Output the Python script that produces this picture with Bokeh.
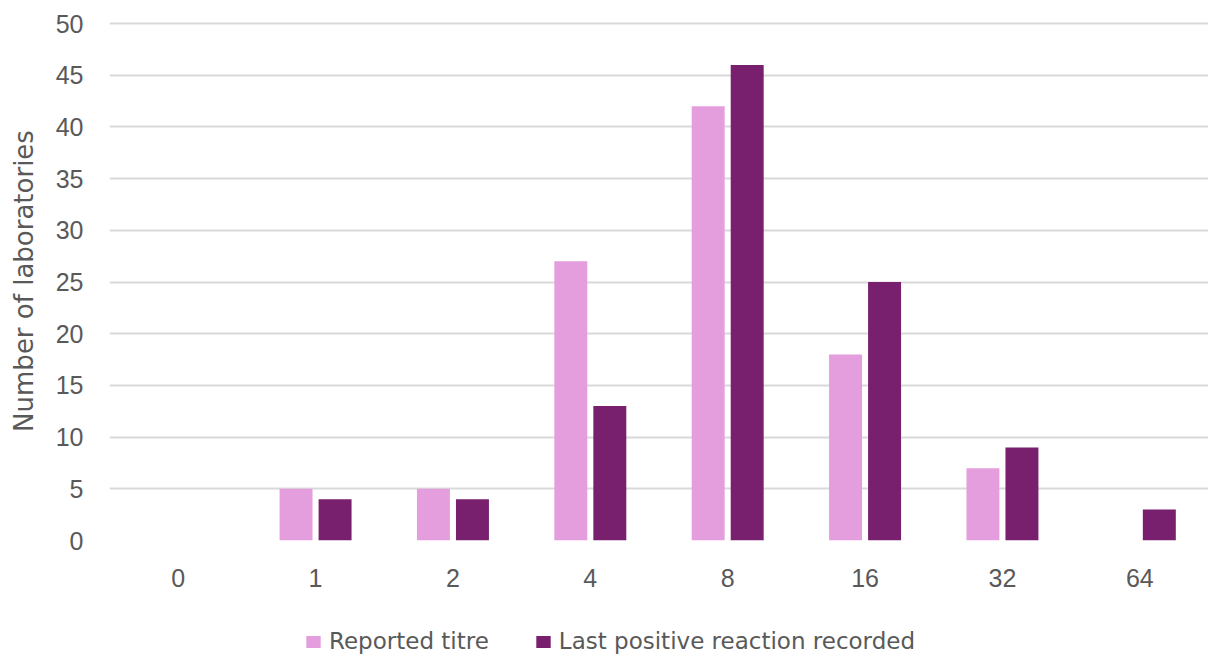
import numpy as np
from bokeh.plotting import figure
from bokeh.layouts import column
from bokeh.models import ColumnDataSource, FixedTicker, Legend, LegendItem, Range1d
from bokeh.embed import file_html
from bokeh.resources import INLINE

# Titre categories and number of laboratories per category
categories = ["0", "1", "2", "4", "8", "16", "32", "64"]
series_names = ["Reported titre", "Last positive reaction recorded"]
reported_titre = [0, 5, 5, 27, 42, 18, 7, 0]
last_positive = [0, 4, 4, 13, 46, 25, 9, 3]

PINK = "#E49EDD"
PURPLE = "#781F6E"
GRID = "#D9D9D9"
TEXT = "#595959"
TICK_FONT = "Liberation Sans"
LABEL_FONT = "DejaVu Sans"

x = np.arange(len(categories))
src = ColumnDataSource(dict(
    x_rep=x - 0.142,
    x_last=x + 0.142,
    rep=reported_titre,
    last=last_positive,
))

p = figure(
    width=1208, height=600,
    min_border_left=109, min_border_right=0, min_border_top=21, min_border_bottom=60,
    x_range=Range1d(-0.5, 7.5), y_range=Range1d(0, 50.2),
    output_backend="svg", toolbar_location=None,
)
p.outline_line_color = None

p.vbar(x="x_rep", top="rep", width=0.24, source=src, fill_color=PINK, line_color=None)
p.vbar(x="x_last", top="last", width=0.24, source=src, fill_color=PURPLE, line_color=None)

# x axis: category labels only
xa = p.xaxis[0]
xa.ticker = FixedTicker(ticks=list(x))
xa.major_label_overrides = {int(i): c for i, c in zip(x, categories)}
xa.axis_line_color = None
xa.major_tick_line_color = None
xa.minor_tick_line_color = None
xa.major_label_standoff = 22
xa.major_label_text_font = TICK_FONT
xa.major_label_text_font_size = "25px"
xa.major_label_text_color = TEXT

# y axis
ya = p.yaxis[0]
ya.ticker = FixedTicker(ticks=list(range(0, 51, 5)))
ya.axis_line_color = None
ya.major_tick_line_color = None
ya.minor_tick_line_color = None
ya.major_label_standoff = 20
ya.major_label_text_font = TICK_FONT
ya.major_label_text_font_size = "25px"
ya.major_label_text_color = TEXT
ya.axis_label = "Number of laboratories"
ya.axis_label_text_font = LABEL_FONT
ya.axis_label_text_font_size = "26px"
ya.axis_label_text_font_style = "normal"
ya.axis_label_text_color = TEXT
ya.axis_label_standoff = 14

p.xgrid.grid_line_color = None
p.ygrid.grid_line_color = GRID
p.ygrid.grid_line_width = 2

# legend strip under the chart; its swatch renderers sit below the visible range
key = figure(
    width=1208, height=55,
    min_border_left=0, min_border_right=0, min_border_top=0, min_border_bottom=0,
    x_range=Range1d(0, 1), y_range=Range1d(0, 1),
    x_axis_type=None, y_axis_type=None,
    output_backend="svg", toolbar_location=None,
)
key.outline_line_color = None
key.border_fill_color = "white"
key.background_fill_color = "white"
key.xgrid.visible = False
key.ygrid.visible = False
sw_rep = key.vbar(x=[0.5], bottom=[-3], top=[-2], width=0.1, fill_color=PINK, line_color=None)
sw_last = key.vbar(x=[0.5], bottom=[-3], top=[-2], width=0.1, fill_color=PURPLE, line_color=None)

legend = Legend(
    items=[
        LegendItem(label=series_names[0], renderers=[sw_rep]),
        LegendItem(label=series_names[1], renderers=[sw_last]),
    ],
    orientation="horizontal",
    location=(195, 1),
    glyph_width=18, glyph_height=15,
    label_standoff=7, spacing=45, padding=0, margin=0,
    label_text_font=LABEL_FONT, label_text_font_size="23px", label_text_color=TEXT,
    border_line_color=None, background_fill_alpha=0,
)
key.add_layout(legend, "center")

layout = column(p, key, spacing=0)
open("out.html", "w").write(file_html(layout, INLINE))
